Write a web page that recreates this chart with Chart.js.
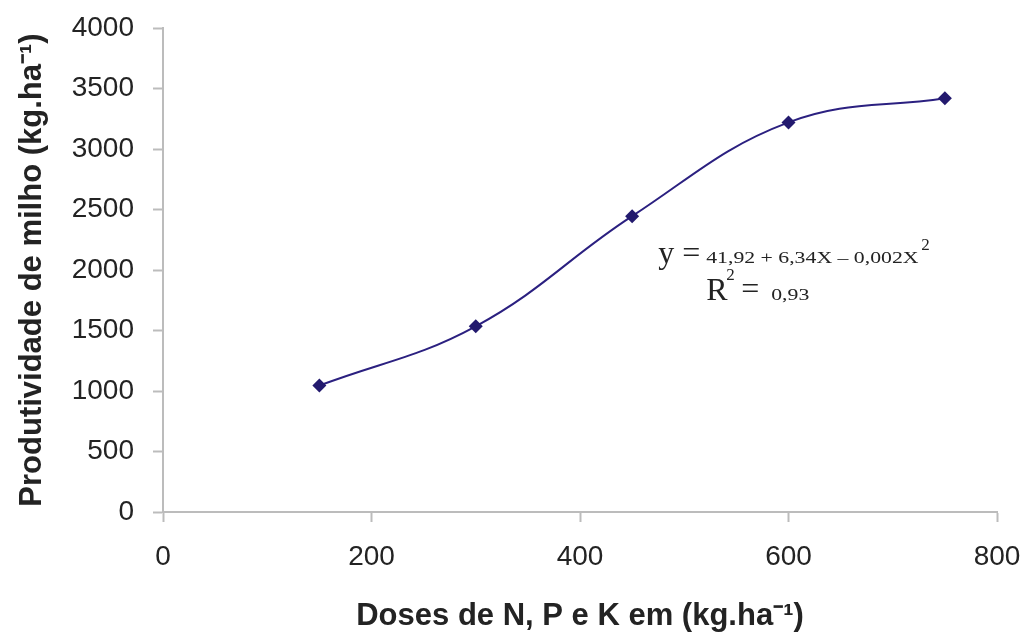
<!DOCTYPE html>
<html>
<head>
<meta charset="utf-8">
<script src="https://cdn.jsdelivr.net/npm/chart.js@4.4.1/dist/chart.umd.min.js"></script>
<style>
    html, body { margin: 0; padding: 0; background: #fff; }
    #wrap { width: 1024px; height: 635px; }
</style>
</head>
<body>
<div id="wrap"><canvas id="chart" width="1024" height="635"></canvas></div>
<script>
// data
const doses = [150, 300, 450, 600, 750];
const produtividade = [1045, 1535, 2445, 3220, 3420];
const xTicks = [0, 200, 400, 600, 800];
const yTicks = [0, 500, 1000, 1500, 2000, 2500, 3000, 3500, 4000];

const lineColor = '#2b2080';
const axisColor = '#bcbcbc';
const textColor = '#232323';
const sansFont = '"Liberation Sans", Arial, sans-serif';
const serifFont = '"Liberation Serif", "Times New Roman", serif';

// regression text, drawn on the canvas with mixed font sizes
const equationPlugin = {
    id: 'equation',
    afterDraw(chart) {
        const ctx = chart.ctx;
        const x0 = chart.scales.x.getPixelForValue(475);
        const y0 = chart.scales.y.getPixelForValue(2058);
        const big = '32px ' + serifFont;
        const small = '16px ' + serifFont;
        const sup = '17px ' + serifFont;
        const stretch = 1.36;

        const smallText = (txt, x, y) => {
            ctx.save();
            ctx.font = small;
            ctx.translate(x, y);
            ctx.scale(stretch, 1);
            ctx.fillText(txt, 0, 0);
            ctx.restore();
        };

        ctx.save();
        ctx.fillStyle = textColor;
        ctx.textBaseline = 'alphabetic';
        ctx.textAlign = 'left';

        // first line
        ctx.font = big;
        ctx.fillText('y', x0, y0);
        ctx.fillText('=', x0 + 24, y0);
        smallText('41,92 + 6,34X \u2013 0,002X', x0 + 48, y0);
        ctx.font = sup;
        ctx.fillText('2', x0 + 263, y0 - 13);

        // second line
        const y1 = y0 + 37;
        ctx.font = big;
        ctx.fillText('R', x0 + 48, y1);
        ctx.font = sup;
        ctx.fillText('2', x0 + 68, y1 - 20);
        ctx.font = big;
        ctx.fillText('=', x0 + 83, y1 - 1);
        smallText('0,93', x0 + 113, y1);
        ctx.restore();
    }
};

document.addEventListener('DOMContentLoaded', () => {
    const ctx = document.getElementById('chart').getContext('2d');
    new Chart(ctx, {
        type: 'line',
        data: {
            datasets: [{
                data: doses.map((d, i) => ({ x: d, y: produtividade[i] })),
                borderColor: lineColor,
                backgroundColor: '#231a6e',
                borderWidth: 2,
                tension: 0.4,
                pointStyle: 'rectRot',
                pointRadius: 7,
                pointBorderWidth: 0,
                fill: false,
            }],
        },
        options: {
            responsive: false,
            animation: false,
            layout: { padding: { top: 28, right: 27, left: 14, bottom: 0 } },
            plugins: {
                legend: { display: false },
                tooltip: { enabled: false },
            },
            scales: {
                x: {
                    type: 'linear',
                    min: 0,
                    max: 800,
                    afterBuildTicks: (scale) => { scale.ticks = xTicks.map(v => ({ value: v })); },
                    afterFit: (scale) => {
                        scale.height = 635 - 512;
                        scale.paddingLeft = 0;
                        scale.paddingRight = 0;
                    },
                    border: { color: axisColor, width: 2 },
                    grid: { display: true, drawOnChartArea: false, drawTicks: true, tickLength: 10, tickColor: axisColor, tickWidth: 2 },
                    ticks: {
                        color: textColor,
                        padding: 18,
                        maxRotation: 0,
                        callback: (v) => String(v),
                        font: { family: sansFont, size: 28 },
                    },
                    title: {
                        display: true,
                        text: 'Doses de N, P e K em (kg.ha\u207B\u00B9)',
                        color: textColor,
                        padding: { top: 0, bottom: 0 },
                        font: { family: sansFont, size: 31, weight: 'bold' },
                    },
                },
                y: {
                    min: 0,
                    max: 4000,
                    afterBuildTicks: (scale) => { scale.ticks = yTicks.map(v => ({ value: v })); },
                    afterFit: (scale) => {
                        scale.width = 163 - 14;
                        scale.paddingTop = 0;
                        scale.paddingBottom = 0;
                    },
                    border: { color: axisColor, width: 2 },
                    grid: { display: true, drawOnChartArea: false, drawTicks: true, tickLength: 10, tickColor: axisColor, tickWidth: 2 },
                    ticks: {
                        color: textColor,
                        padding: 19,
                        callback: (v) => String(v),
                        font: { family: sansFont, size: 28 },
                    },
                    title: {
                        display: true,
                        text: 'Produtividade de milho (kg.ha\u207B\u00B9)',
                        color: textColor,
                        padding: { top: 0, bottom: 0 },
                        font: { family: sansFont, size: 31, weight: 'bold' },
                    },
                },
            },
        },
        plugins: [equationPlugin],
    });
});
</script>
</body>
</html>
